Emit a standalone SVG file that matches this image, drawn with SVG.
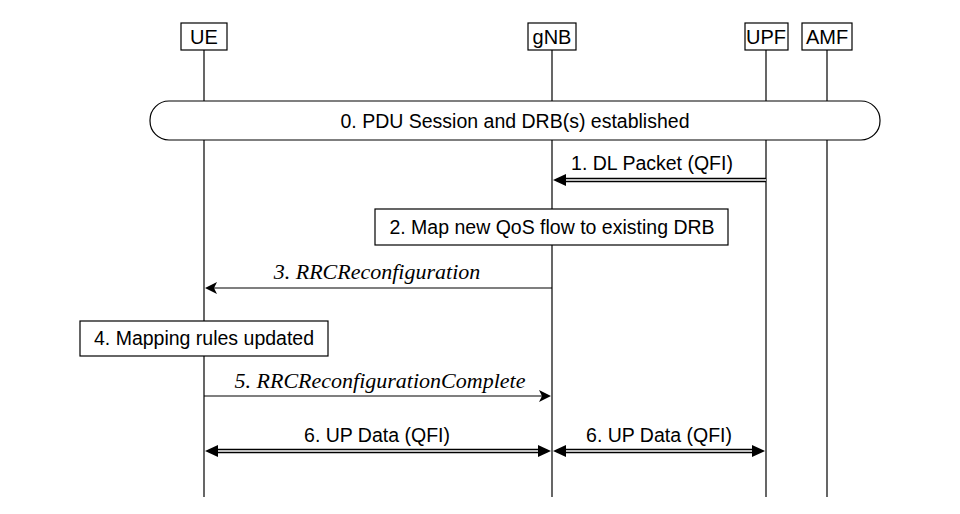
<svg xmlns="http://www.w3.org/2000/svg" width="960" height="514" viewBox="0 0 960 514">
<style>
.t{font-family:"Liberation Sans",Arial,sans-serif;font-size:19.5px;fill:#000;text-anchor:middle}
.h{font-family:"Liberation Sans",Arial,sans-serif;font-size:20px;fill:#000;text-anchor:middle}
.i{font-family:"Liberation Serif","Times New Roman",serif;font-size:22px;font-style:italic;fill:#000;text-anchor:middle}
.b{fill:#fff;stroke:#000;stroke-width:1.2}
.ll{stroke:#000;stroke-width:1.2}
.dbo{stroke:#000;stroke-width:4.5;fill:none}
.dbi{stroke:#fff;stroke-width:1.5;fill:none}
.s{stroke:#000;stroke-width:1.2;fill:none}
</style>
<rect width="960" height="514" fill="#fff"/>
<g id="lifelines">
<line class="ll" x1="204" y1="50" x2="204" y2="497"/>
<line class="ll" x1="552" y1="50" x2="552" y2="497"/>
<line class="ll" x1="766" y1="50" x2="766" y2="497"/>
<line class="ll" x1="827" y1="50" x2="827" y2="497"/>
</g>
<g id="UE"><rect class="b" x="181" y="23" width="46" height="27"/><text class="h" x="204" y="44">UE</text></g>
<g id="gNB"><rect class="b" x="528" y="23" width="48" height="27"/><text class="h" x="552" y="44">gNB</text></g>
<g id="UPF"><rect class="b" x="745" y="23" width="43" height="27"/><text class="h" x="766" y="44">UPF</text></g>
<g id="AMF"><rect class="b" x="802" y="23" width="50" height="27"/><text class="h" x="827" y="44">AMF</text></g>
<g id="step0"><rect class="b" x="150" y="101" width="730" height="39" rx="19"/><text class="t" x="515" y="128">0. PDU Session and DRB(s) established</text></g>
<g id="step2"><rect class="b" x="375" y="209" width="353" height="36"/><text class="t" x="552" y="234">2. Map new QoS flow to existing DRB</text></g>
<g id="step4"><rect class="b" x="80" y="321" width="248" height="35"/><text class="t" x="204" y="345">4. Mapping rules updated</text></g>
<g id="connectors">
<line class="dbo" x1="766" y1="180" x2="564" y2="180"/><line class="dbi" x1="766" y1="180" x2="564" y2="180"/>
<polygon points="553,180 566,174 566,186"/>
<text class="t" x="652" y="170">1. DL Packet (QFI)</text>
<line class="s" x1="552" y1="288" x2="212" y2="288"/>
<polygon points="205,288 217,282 214,288 217,294"/>
<text class="i" x="377" y="279">3. RRCReconfiguration</text>
<line class="s" x1="204" y1="396" x2="544" y2="396"/>
<polygon points="551,396 539,390 542,396 539,402"/>
<text class="i" x="380" y="388">5. RRCReconfigurationComplete</text>
<line class="dbo" x1="215" y1="451" x2="540" y2="451"/><line class="dbi" x1="215" y1="451" x2="540" y2="451"/>
<polygon points="205,451 218,445 218,457"/><polygon points="551,451 538,445 538,457"/>
<text class="t" x="377" y="442">6. UP Data (QFI)</text>
<line class="dbo" x1="564" y1="451" x2="754" y2="451"/><line class="dbi" x1="564" y1="451" x2="754" y2="451"/>
<polygon points="553,451 566,445 566,457"/><polygon points="765,451 752,445 752,457"/>
<text class="t" x="659" y="442">6. UP Data (QFI)</text>
</g>
</svg>
